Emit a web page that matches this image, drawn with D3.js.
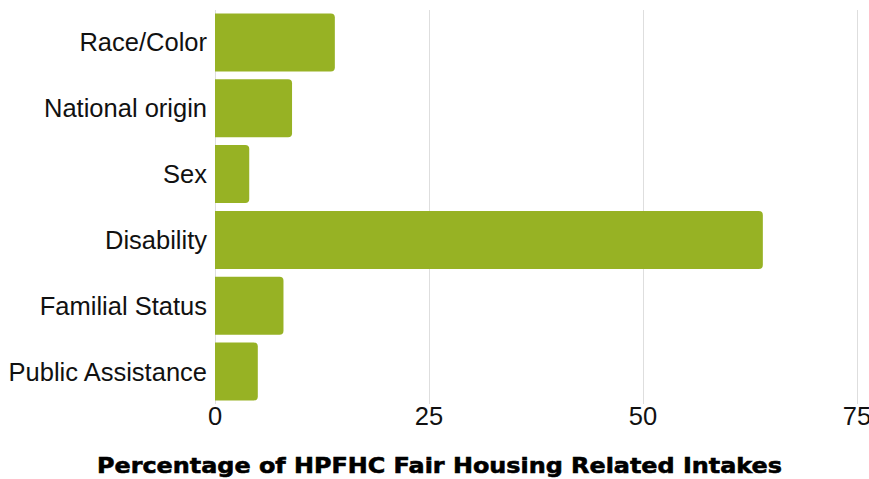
<!DOCTYPE html>
<html lang="en">
<head>
<meta charset="utf-8">
<title>Fair Housing Related Intakes</title>
<script src="https://cdn.jsdelivr.net/npm/d3@7"></script>
<style>
  body { margin: 0; background: #fff; }
  svg { display: block; }
</style>
</head>
<body>
<svg width="869" height="479"></svg>
<script>
// data
var categories = ["Race/Color", "National origin", "Sex", "Disability", "Familial Status", "Public Assistance"];
var values = [14, 9, 4, 64, 8, 5];
var ticks = [0, 25, 50, 75];
var title = "Percentage of HPFHC Fair Housing Related Intakes";

var svg = d3.select("svg");
var plotLeft = 215, plotRight = 857, plotTop = 9.5, plotBottom = 404.5;

var x = d3.scaleLinear().domain([0, 75]).range([plotLeft, plotRight]);
var y = d3.scaleBand().domain(categories).range([plotTop, plotBottom])
    .paddingInner(0.12).paddingOuter(0.06);

// grid lines
svg.append("g")
    .selectAll("line")
    .data(ticks)
    .enter().append("line")
    .attr("x1", function (d) { return x(d) + 0.5; })
    .attr("x2", function (d) { return x(d) + 0.5; })
    .attr("y1", 10)
    .attr("y2", 404)
    .attr("stroke", "#dedede")
    .attr("stroke-width", 1);

// bars, square on the left, rounded on the right
function barPath(d, i) {
    var x0 = x(0), x1 = x(d), y0 = y(categories[i]), h = y.bandwidth();
    var r = Math.min(4, (x1 - x0) / 2);
    return "M" + x0 + "," + y0 +
        "H" + (x1 - r) +
        "Q" + x1 + "," + y0 + " " + x1 + "," + (y0 + r) +
        "V" + (y0 + h - r) +
        "Q" + x1 + "," + (y0 + h) + " " + (x1 - r) + "," + (y0 + h) +
        "H" + x0 + "Z";
}

svg.append("g")
    .selectAll("path")
    .data(values)
    .enter().append("path")
    .attr("d", barPath)
    .attr("fill", "#97b224");

// category labels
svg.append("g")
    .selectAll("text")
    .data(categories)
    .enter().append("text")
    .attr("x", 207)
    .attr("y", function (d) { return y(d) + y.bandwidth() / 2; })
    .attr("dy", "0.35em")
    .attr("text-anchor", "end")
    .attr("font-family", "Liberation Sans, Arial, sans-serif")
    .attr("font-size", 25.5)
    .attr("fill", "#111")
    .text(function (d) { return d; });

// x tick labels
svg.append("g")
    .selectAll("text")
    .data(ticks)
    .enter().append("text")
    .attr("x", function (d) { return x(d); })
    .attr("y", 425)
    .attr("text-anchor", "middle")
    .attr("font-family", "Liberation Sans, Arial, sans-serif")
    .attr("font-size", 25.5)
    .attr("fill", "#111")
    .text(function (d) { return d; });

// axis title
svg.append("text")
    .attr("x", 439.5)
    .attr("y", 473)
    .attr("text-anchor", "middle")
    .attr("font-family", "DejaVu Sans, sans-serif")
    .attr("font-weight", "bold")
    .attr("font-size", 22)
    .attr("textLength", 685)
    .attr("lengthAdjust", "spacingAndGlyphs")
    .attr("fill", "#000")
    .attr("stroke", "#000")
    .attr("stroke-width", 0.6)
    .text(title);
</script>
</body>
</html>
